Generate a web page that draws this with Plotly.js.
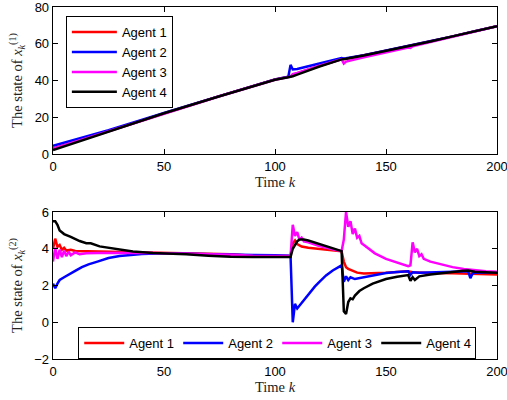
<!DOCTYPE html>
<html>
<head>
<meta charset="utf-8">
<script src="https://cdn.plot.ly/plotly-3.0.1.min.js"></script>
<style>html,body{margin:0;padding:0;background:#fff;}#chart{width:507px;height:400px;}</style>
</head>
<body>
<div id="chart"></div>
<script>
// ---------- data ----------
const agentNames = ["Agent 1", "Agent 2", "Agent 3", "Agent 4"];
const agentColors = ["#ff0000", "#0000ff", "#ff00ff", "#000000"];

// Top panel: state x^(1)
const kTop = [0,25,50,75,100,106,107,108,110,120,130,131,132,140,150,160,161,162,170,180,190,200];
const x1Agent1 = [3.0,12.6,22.3,31.5,40.5,42.0,42.2,43.2,43.8,47.9,51.7,51.6,51.8,53.7,56.2,58.7,58.9,59.1,61.3,64.0,66.8,69.6];
const x1Agent2 = [4.4,13.0,22.4,31.6,40.6,42.1,48.5,46.0,46.3,49.2,52.2,52.0,52.1,53.8,56.3,58.8,59.0,59.2,61.3,64.0,66.8,69.6];
const x1Agent3 = [2.8,12.4,22.2,31.4,40.4,41.9,42.1,43.5,44.1,48.0,51.6,49.2,50.3,52.6,55.3,58.0,57.7,58.6,60.9,63.8,66.7,69.5];
const x1Agent4 = [2.2,12.3,22.2,31.4,40.4,41.8,42.0,42.3,43.2,47.6,51.5,51.6,51.8,53.6,56.1,58.6,58.8,59.0,61.2,64.0,66.8,69.6];

// Bottom panel: state x^(2)
const kAgent1 = [0,1,2,3,4,5,6,8,10,15,20,30,40,50,60,70,80,90,100,107,108,109,110,112,115,120,125,130,131,132,133,135,137,140,145,150,155,160,162,165,170,180,190,200];
const x2Agent1 = [4.0,4.55,4.1,4.2,3.95,4.05,3.9,3.95,3.88,3.87,3.85,3.8,3.78,3.76,3.76,3.75,3.7,3.62,3.6,3.6,4.3,4.45,4.25,4.12,4.05,3.98,3.92,3.86,3.3,3.0,2.9,2.78,2.7,2.65,2.66,2.7,2.74,2.77,2.72,2.7,2.68,2.66,2.63,2.6];

const kAgent2 = [0,1,2,3,5,7,10,13,16,20,25,30,35,40,50,60,70,80,90,100,107,108,109,110,111,113,115,118,120,123,126,129,130,131,132,133,134,136,140,145,150,155,160,161,162,165,170,175,180,185,187,188,189,190,195,200];
const x2Agent2 = [2.1,1.85,2.1,2.3,2.45,2.6,2.8,3.0,3.15,3.3,3.5,3.6,3.68,3.72,3.75,3.72,3.7,3.68,3.66,3.65,3.62,0.0,1.0,0.75,0.9,1.25,1.55,1.95,2.2,2.55,2.82,3.02,3.1,2.2,2.5,2.3,2.45,2.35,2.45,2.58,2.68,2.74,2.78,2.58,2.72,2.7,2.72,2.75,2.78,2.8,2.78,2.4,2.65,2.7,2.72,2.72];

const kAgent3 = [0,1,2,3,4,5,6,7,8,10,12,15,20,30,40,50,60,70,80,90,100,107,108,109,110,111,112,113,115,120,125,130,131,132,133,134,135,136,137,138,139,140,145,150,155,160,161,162,163,164,165,166,167,170,175,180,185,190,195,200];
const x2Agent3 = [3.3,4.05,3.45,3.95,3.55,3.9,3.6,3.85,3.65,3.8,3.7,3.75,3.77,3.78,3.78,3.75,3.73,3.72,3.67,3.62,3.6,3.6,5.3,4.7,4.9,4.5,4.6,4.4,4.35,4.15,4.0,3.87,4.5,6.0,5.2,5.5,4.8,5.1,4.6,4.7,4.3,4.2,3.75,3.45,3.25,3.05,3.1,4.35,3.8,4.0,3.6,3.7,3.45,3.3,3.15,3.0,2.9,2.83,2.78,2.75];

const kAgent4 = [0,1,2,3,4,5,8,12,15,17,21,25,29,36,45,50,60,70,80,90,100,107,108,109,110,111,113,115,120,125,130,131,132,133,134,135,136,138,140,144,150,155,160,161,162,163,165,170,175,180,185,187,190,195,200];
const x2Agent4 = [5.5,5.5,5.3,5.0,4.9,4.8,4.65,4.42,4.3,4.3,4.13,4.05,3.95,3.85,3.77,3.75,3.7,3.62,3.56,3.55,3.55,3.55,4.0,4.2,4.4,4.5,4.5,4.45,4.25,4.05,3.87,0.6,0.45,1.1,1.3,1.25,1.45,1.7,1.85,2.1,2.35,2.48,2.57,2.25,2.45,2.3,2.5,2.6,2.68,2.75,2.8,2.82,2.75,2.72,2.7];

const xTicks = [0,50,100,150,200];
const yTopTicks = [0,20,40,60,80];
const yBotTicks = [-2,0,2,4,6];

// ---------- traces ----------
const topY = [x1Agent1, x1Agent2, x1Agent3, x1Agent4];
const botK = [kAgent1, kAgent2, kAgent3, kAgent4];
const botY = [x2Agent1, x2Agent2, x2Agent3, x2Agent4];

const traces = [];
for (let i = 0; i < 4; i++) {
  traces.push({
    x: kTop, y: topY[i], type: "scatter", mode: "lines", name: agentNames[i],
    line: {color: agentColors[i], width: 2.5}, xaxis: "x", yaxis: "y", legend: "legend"
  });
}
for (let i = 0; i < 4; i++) {
  traces.push({
    x: botK[i], y: botY[i], type: "scatter", mode: "lines", name: agentNames[i],
    line: {color: agentColors[i], width: 2.5}, xaxis: "x2", yaxis: "y2", legend: "legend2"
  });
}

const tickFont = {family: "Liberation Sans, Arial, sans-serif", size: 13, color: "#000"};
const titleFont = {family: "Liberation Serif, Times New Roman, serif", size: 14.5, color: "#222"};

function xAxis(anchor) {
  return {
    domain: [0, 1], range: [0, 200], anchor: anchor,
    tickmode: "array", tickvals: xTicks, ticks: "inside", ticklen: 5, tickcolor: "#000",
    showline: true, mirror: "ticks", linecolor: "#000", linewidth: 1.3,
    showgrid: false, zeroline: false, tickfont: tickFont, ticklabeloverflow: "allow",
    title: {text: "Time <i>k</i>", font: titleFont, standoff: 3}
  };
}
function yAxis(anchor, domain, range, ticks, sup) {
  return {
    domain: domain, range: range, anchor: anchor,
    tickmode: "array", tickvals: ticks, ticks: "inside", ticklen: 5, tickcolor: "#000",
    showline: true, mirror: "ticks", linecolor: "#000", linewidth: 1.3,
    showgrid: false, zeroline: false, tickfont: tickFont, ticklabeloverflow: "allow",
    title: {text: "The state of <i>x</i><sub><i>k</i></sub><sup>(" + sup + ")</sup>", font: titleFont, standoff: 8}
  };
}

const layout = {
  width: 507, height: 400,
  margin: {l: 53, r: 10, t: 7, b: 41},
  paper_bgcolor: "#fff", plot_bgcolor: "#fff",
  showlegend: true,
  xaxis: xAxis("y"),
  yaxis: yAxis("x", [0.5824, 1], [0, 80], yTopTicks, 1),
  xaxis2: xAxis("y2"),
  yaxis2: yAxis("x2", [0, 0.4176], [-2, 6], yBotTicks, 2),
  legend: {
    x: 0.029, y: 0.974, xanchor: "left", yanchor: "top",
    bgcolor: "#fff", bordercolor: "#000", borderwidth: 1,
    font: {family: "Liberation Sans, Arial, sans-serif", size: 13, color: "#000"},
    orientation: "v", itemwidth: 45
  },
  legend2: {
    x: 0.505, y: 0.091, xanchor: "center", yanchor: "top",
    bgcolor: "#fff", bordercolor: "#000", borderwidth: 1,
    font: {family: "Liberation Sans, Arial, sans-serif", size: 13, color: "#000"},
    orientation: "h", entrywidth: 44, itemwidth: 40
  }
};

Plotly.newPlot("chart", traces, layout, {staticPlot: true, displayModeBar: false});
</script>
</body>
</html>
